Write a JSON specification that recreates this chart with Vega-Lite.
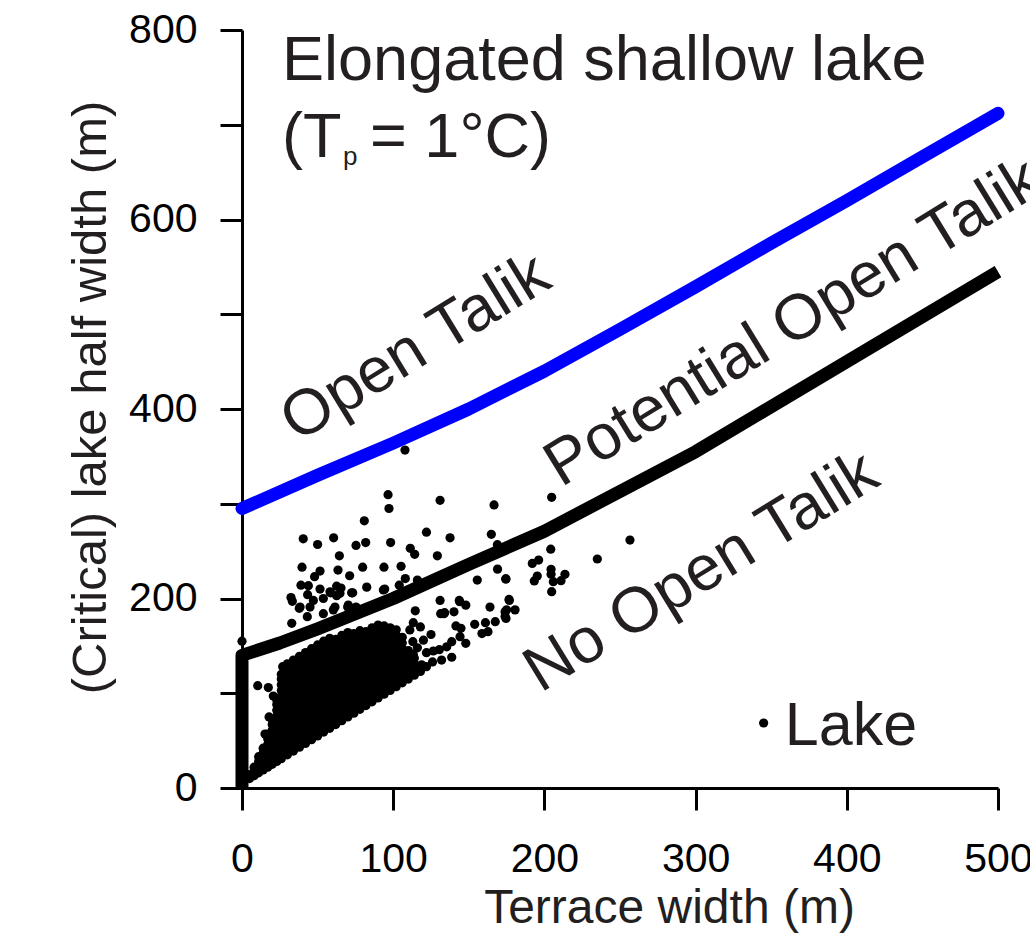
{
"$schema": "https://vega.github.io/schema/vega-lite/v6.json",
"width": 756, "height": 758,
"autosize": {"type": "none"},
"padding": {"left": 242, "top": 30, "right": 32, "bottom": 150},
"background": "white",
"config": {"view": {"stroke": null}, "axis": {"grid": false, "domainColor": "black", "domainWidth": 3, "tickColor": "black", "tickWidth": 3, "tickSize": 22, "labelFont": "Liberation Sans", "labelFontSize": 41, "labelColor": "black", "titleFont": "Liberation Sans", "titleFontWeight": "normal", "titleColor": "#231f20", "labelOverlap": false, "labelFlush": false, "labelBound": false}},
"datasets": {
"lakes": [
{"x":0,"y":155},{"x":10.4,"y":108},{"x":17.4,"y":106},{"x":20.7,"y":97},{"x":15.2,"y":57},{"x":17.9,"y":75},{"x":26.9,"y":128},
{"x":80.9,"y":282},{"x":40.5,"y":263},{"x":50,"y":257},{"x":60.6,"y":264},{"x":75.4,"y":256},{"x":81.8,"y":259},{"x":64.4,"y":245},{"x":39.7,"y":233},{"x":51.6,"y":229},{"x":63.5,"y":230},{"x":79.8,"y":233},{"x":48,"y":223},{"x":71.2,"y":224},{"x":39,"y":214},{"x":43.9,"y":213.5},{"x":51.6,"y":210},{"x":62.6,"y":213},{"x":65.5,"y":211},{"x":32.4,"y":201},{"x":33.3,"y":197},{"x":43.4,"y":204},{"x":47.2,"y":198},{"x":53.8,"y":200},{"x":58.6,"y":206},{"x":62.6,"y":203},{"x":73.2,"y":206},{"x":38.4,"y":191},{"x":45,"y":191},{"x":61.5,"y":191},{"x":69.9,"y":191},{"x":75.4,"y":191},
{"x":96.6,"y":309.6},{"x":97.2,"y":295},{"x":131,"y":303.6},{"x":166.7,"y":298.7},{"x":122,"y":270},{"x":137.6,"y":264},{"x":164.9,"y":267.7},{"x":168.9,"y":256.8},{"x":98.3,"y":259},{"x":111.3,"y":253},{"x":114.2,"y":246.6},{"x":129.2,"y":245},{"x":93.9,"y":233},{"x":105.2,"y":234},{"x":169,"y":231},{"x":108,"y":221},{"x":116,"y":219.5},{"x":104,"y":214},{"x":94.4,"y":210},{"x":155.6,"y":219.5},{"x":174.6,"y":220.6},{"x":131,"y":198},{"x":143.7,"y":198},{"x":148,"y":193},{"x":164,"y":191},{"x":176.8,"y":198},
{"x":114.6,"y":187},{"x":131.4,"y":184},{"x":133.6,"y":184},{"x":140.2,"y":186},{"x":175,"y":188},{"x":174.6,"y":179},{"x":141.5,"y":171},{"x":144.8,"y":168.5},{"x":153.9,"y":172.8},{"x":161,"y":174.5},{"x":167.5,"y":175.5},{"x":158.7,"y":163},{"x":162.7,"y":165},{"x":144.2,"y":159.7},{"x":148,"y":152.7},{"x":138.7,"y":154.4},{"x":135.4,"y":149},{"x":130.5,"y":146},{"x":126.5,"y":144.6},{"x":122,"y":142.8},{"x":113.3,"y":141},{"x":110,"y":138.6},{"x":132,"y":135},{"x":138.7,"y":138},{"x":118.8,"y":130},{"x":111,"y":128},{"x":109,"y":124},{"x":106.7,"y":117.5},
{"x":204.8,"y":306.8},{"x":256.6,"y":261.7},{"x":235,"y":241.7},{"x":204.2,"y":252},{"x":192,"y":237},{"x":196.2,"y":240.6},{"x":204.4,"y":230.8},{"x":204.4,"y":225.5},{"x":213.6,"y":225.5},{"x":211,"y":218.8},{"x":205.9,"y":217.7},{"x":195.3,"y":223.7},{"x":193.3,"y":218.5},{"x":204.8,"y":207.2},{"x":174.4,"y":220.6},{"x":176.6,"y":199},{"x":180.6,"y":188},{"x":174,"y":186},{"x":174,"y":181},
{"x":107.8,"y":356.7},{"x":37.9,"y":189.6},{"x":43.2,"y":180.8},{"x":32.9,"y":173.8},{"x":53.8,"y":184},{"x":60.4,"y":188},{"x":70.3,"y":193},{"x":75.9,"y":189.6},{"x":58.2,"y":207},{"x":72.5,"y":206},{"x":64.8,"y":205.5},{"x":82.5,"y":212},{"x":93.5,"y":209},{"x":113.3,"y":174.5},{"x":111,"y":166.8},{"x":113,"y":154.4},{"x":134,"y":185},{"x":144,"y":196.6},
{"x":118,"y":123},{"x":122,"y":128},{"x":126,"y":133},{"x":116,"y":148},{"x":120,"y":156},{"x":125,"y":162},{"x":118,"y":170},
{"x":5,"y":10},{"x":5,"y":14},
{"x":8,"y":13},{"x":8,"y":18},{"x":8,"y":22},
{"x":11,"y":16},{"x":11,"y":22},{"x":11,"y":28},{"x":11,"y":33},
{"x":14,"y":19},{"x":14,"y":25},{"x":14,"y":31},{"x":14,"y":37},{"x":14,"y":42},
{"x":17,"y":22},{"x":17,"y":28},{"x":17,"y":34},{"x":17,"y":40},{"x":17,"y":46},{"x":17,"y":52},{"x":17,"y":57},
{"x":20,"y":25},{"x":20,"y":31},{"x":20,"y":37},{"x":20,"y":43},{"x":20,"y":49},{"x":20,"y":55},{"x":20,"y":61},{"x":20,"y":67},{"x":20,"y":72},
{"x":23,"y":28},{"x":23,"y":34},{"x":23,"y":40},{"x":23,"y":46},{"x":23,"y":52},{"x":23,"y":58},{"x":23,"y":64},{"x":23,"y":70},{"x":23,"y":76},{"x":23,"y":82},{"x":23,"y":88},{"x":23,"y":93},
{"x":26,"y":31},{"x":26,"y":37},{"x":26,"y":43},{"x":26,"y":49},{"x":26,"y":55},{"x":26,"y":61},{"x":26,"y":67},{"x":26,"y":73},{"x":26,"y":79},{"x":26,"y":85},{"x":26,"y":91},{"x":26,"y":97},{"x":26,"y":103},{"x":26,"y":109},{"x":26,"y":115},{"x":26,"y":120},
{"x":30,"y":35},{"x":30,"y":41},{"x":30,"y":47},{"x":30,"y":53},{"x":30,"y":59},{"x":30,"y":65},{"x":30,"y":71},{"x":30,"y":77},{"x":30,"y":83},{"x":30,"y":89},{"x":30,"y":95},{"x":30,"y":101},{"x":30,"y":107},{"x":30,"y":113},{"x":30,"y":119},{"x":30,"y":125},{"x":30,"y":131},
{"x":34,"y":39},{"x":34,"y":45},{"x":34,"y":51},{"x":34,"y":57},{"x":34,"y":63},{"x":34,"y":69},{"x":34,"y":75},{"x":34,"y":81},{"x":34,"y":87},{"x":34,"y":93},{"x":34,"y":99},{"x":34,"y":105},{"x":34,"y":111},{"x":34,"y":117},{"x":34,"y":123},{"x":34,"y":129},{"x":34,"y":135},
{"x":38,"y":43},{"x":38,"y":49},{"x":38,"y":55},{"x":38,"y":61},{"x":38,"y":67},{"x":38,"y":73},{"x":38,"y":79},{"x":38,"y":85},{"x":38,"y":91},{"x":38,"y":97},{"x":38,"y":103},{"x":38,"y":109},{"x":38,"y":115},{"x":38,"y":121},{"x":38,"y":127},{"x":38,"y":133},{"x":38,"y":139},
{"x":42,"y":47},{"x":42,"y":53},{"x":42,"y":59},{"x":42,"y":65},{"x":42,"y":71},{"x":42,"y":77},{"x":42,"y":83},{"x":42,"y":89},{"x":42,"y":95},{"x":42,"y":101},{"x":42,"y":107},{"x":42,"y":113},{"x":42,"y":119},{"x":42,"y":125},{"x":42,"y":131},{"x":42,"y":137},{"x":42,"y":143},
{"x":46,"y":51},{"x":46,"y":57},{"x":46,"y":63},{"x":46,"y":69},{"x":46,"y":75},{"x":46,"y":81},{"x":46,"y":87},{"x":46,"y":93},{"x":46,"y":99},{"x":46,"y":105},{"x":46,"y":111},{"x":46,"y":117},{"x":46,"y":123},{"x":46,"y":129},{"x":46,"y":135},{"x":46,"y":141},{"x":46,"y":147},
{"x":50,"y":55},{"x":50,"y":61},{"x":50,"y":67},{"x":50,"y":73},{"x":50,"y":79},{"x":50,"y":85},{"x":50,"y":91},{"x":50,"y":97},{"x":50,"y":103},{"x":50,"y":109},{"x":50,"y":115},{"x":50,"y":121},{"x":50,"y":127},{"x":50,"y":133},{"x":50,"y":139},{"x":50,"y":145},{"x":50,"y":151},
{"x":54,"y":59},{"x":54,"y":65},{"x":54,"y":71},{"x":54,"y":77},{"x":54,"y":83},{"x":54,"y":89},{"x":54,"y":95},{"x":54,"y":101},{"x":54,"y":107},{"x":54,"y":113},{"x":54,"y":119},{"x":54,"y":125},{"x":54,"y":131},{"x":54,"y":137},{"x":54,"y":143},{"x":54,"y":149},{"x":54,"y":155},
{"x":58,"y":63},{"x":58,"y":69},{"x":58,"y":75},{"x":58,"y":81},{"x":58,"y":87},{"x":58,"y":93},{"x":58,"y":99},{"x":58,"y":105},{"x":58,"y":111},{"x":58,"y":117},{"x":58,"y":123},{"x":58,"y":129},{"x":58,"y":135},{"x":58,"y":141},{"x":58,"y":147},{"x":58,"y":153},{"x":58,"y":158},
{"x":62,"y":67},{"x":62,"y":73},{"x":62,"y":79},{"x":62,"y":85},{"x":62,"y":91},{"x":62,"y":97},{"x":62,"y":103},{"x":62,"y":109},{"x":62,"y":115},{"x":62,"y":121},{"x":62,"y":127},{"x":62,"y":133},{"x":62,"y":139},{"x":62,"y":145},{"x":62,"y":151},{"x":62,"y":157},
{"x":66,"y":71},{"x":66,"y":77},{"x":66,"y":83},{"x":66,"y":89},{"x":66,"y":95},{"x":66,"y":101},{"x":66,"y":107},{"x":66,"y":113},{"x":66,"y":119},{"x":66,"y":125},{"x":66,"y":131},{"x":66,"y":137},{"x":66,"y":143},{"x":66,"y":149},{"x":66,"y":155},{"x":66,"y":161},
{"x":70,"y":75},{"x":70,"y":81},{"x":70,"y":87},{"x":70,"y":93},{"x":70,"y":99},{"x":70,"y":105},{"x":70,"y":111},{"x":70,"y":117},{"x":70,"y":123},{"x":70,"y":129},{"x":70,"y":135},{"x":70,"y":141},{"x":70,"y":147},{"x":70,"y":153},{"x":70,"y":159},{"x":70,"y":164},
{"x":74,"y":79},{"x":74,"y":85},{"x":74,"y":91},{"x":74,"y":97},{"x":74,"y":103},{"x":74,"y":109},{"x":74,"y":115},{"x":74,"y":121},{"x":74,"y":127},{"x":74,"y":133},{"x":74,"y":139},{"x":74,"y":145},{"x":74,"y":151},{"x":74,"y":157},{"x":74,"y":163},
{"x":78,"y":83},{"x":78,"y":89},{"x":78,"y":95},{"x":78,"y":101},{"x":78,"y":107},{"x":78,"y":113},{"x":78,"y":119},{"x":78,"y":125},{"x":78,"y":131},{"x":78,"y":137},{"x":78,"y":143},{"x":78,"y":149},{"x":78,"y":155},{"x":78,"y":161},{"x":78,"y":166},
{"x":82,"y":87},{"x":82,"y":93},{"x":82,"y":99},{"x":82,"y":105},{"x":82,"y":111},{"x":82,"y":117},{"x":82,"y":123},{"x":82,"y":129},{"x":82,"y":135},{"x":82,"y":141},{"x":82,"y":147},{"x":82,"y":153},{"x":82,"y":159},{"x":82,"y":165},
{"x":86,"y":91},{"x":86,"y":97},{"x":86,"y":103},{"x":86,"y":109},{"x":86,"y":115},{"x":86,"y":121},{"x":86,"y":127},{"x":86,"y":133},{"x":86,"y":139},{"x":86,"y":145},{"x":86,"y":151},{"x":86,"y":157},{"x":86,"y":163},{"x":86,"y":169},
{"x":90,"y":95},{"x":90,"y":101},{"x":90,"y":107},{"x":90,"y":113},{"x":90,"y":119},{"x":90,"y":125},{"x":90,"y":131},{"x":90,"y":137},{"x":90,"y":143},{"x":90,"y":149},{"x":90,"y":155},{"x":90,"y":161},{"x":90,"y":167},{"x":90,"y":172},
{"x":94,"y":99},{"x":94,"y":105},{"x":94,"y":111},{"x":94,"y":117},{"x":94,"y":123},{"x":94,"y":129},{"x":94,"y":135},{"x":94,"y":141},{"x":94,"y":147},{"x":94,"y":153},{"x":94,"y":159},{"x":94,"y":165},{"x":94,"y":171},
{"x":98,"y":103},{"x":98,"y":109},{"x":98,"y":115},{"x":98,"y":121},{"x":98,"y":127},{"x":98,"y":133},{"x":98,"y":139},{"x":98,"y":145},{"x":98,"y":151},{"x":98,"y":157},{"x":98,"y":163},{"x":98,"y":169},
{"x":102,"y":107},{"x":102,"y":113},{"x":102,"y":119},{"x":102,"y":125},{"x":102,"y":131},{"x":102,"y":137},{"x":102,"y":143},{"x":102,"y":149},{"x":102,"y":155},{"x":102,"y":161},{"x":102,"y":167},
{"x":106,"y":111},{"x":106,"y":117},{"x":106,"y":123},{"x":106,"y":129},{"x":106,"y":135},{"x":106,"y":141},{"x":106,"y":147},{"x":106,"y":153},{"x":106,"y":159},
{"x":110,"y":115},{"x":110,"y":121},{"x":110,"y":127},{"x":110,"y":133},{"x":110,"y":139},{"x":110,"y":145},
{"x":114,"y":119},{"x":114,"y":125},{"x":114,"y":131},{"x":114,"y":137}
],
"blackline": [{"i":0,"x":0,"y":0},{"i":1,"x":0,"y":140},{"i":2,"x":25,"y":153},{"i":3,"x":50,"y":168},{"i":4,"x":100,"y":200},{"i":5,"x":150,"y":236},{"i":6,"x":200,"y":271},{"i":7,"x":300,"y":355},{"i":8,"x":400,"y":450},{"i":9,"x":500,"y":545}],
"blueline": [{"i":0,"x":0,"y":295},{"i":1,"x":50,"y":330},{"i":2,"x":100,"y":364},{"i":3,"x":150,"y":400},{"i":4,"x":200,"y":440},{"i":5,"x":250,"y":484},{"i":6,"x":300,"y":529},{"i":7,"x":350,"y":575},{"i":8,"x":400,"y":620},{"i":9,"x":450,"y":666},{"i":10,"x":500,"y":712}],
"bigtext": [{"x":26.5,"y":747,"text":"Elongated shallow lake"},{"x":26.5,"y":666,"text":"(T"},{"x":84.7,"y":666,"text":"= 1°C)"}],
"subtext": [{"x":66.8,"y":657,"text":"p"}],
"regions": [{"x":36.5,"y":364,"text":"Open Talik"},{"x":211,"y":317,"text":"Potential Open Talik"},{"x":197.5,"y":100,"text":"No Open Talik"}],
"legendpoint": [{"x":345,"y":68.6}],
"legendtext": [{"x":359,"y":45.4,"text":"Lake"}]
},
"encoding": {
"x": {"field": "x", "type": "quantitative", "scale": {"domain": [0, 500], "nice": false, "zero": false}, "axis": {"values": [0, 100, 200, 300, 400, 500], "labelPadding": 29, "title": "Terrace width (m)", "titleFontSize": 48, "titleX": 427, "titleY": 134, "titleBaseline": "alphabetic", "titleAlign": "center", "titleAnchor": null}},
"y": {"field": "y", "type": "quantitative", "scale": {"domain": [0, 800], "nice": false, "zero": false}, "axis": {"values": [0, 100, 200, 300, 400, 500, 600, 700, 800], "labelExpr": "datum.value % 200 === 0 ? datum.label : ''", "labelPadding": 23, "title": "(Critical) lake half width (m)", "titleFontSize": 49, "titleAngle": 270, "titleX": -137, "titleY": 367, "titleBaseline": "alphabetic", "titleAlign": "center"}}
},
"layer": [
{"data": {"name": "lakes"}, "mark": {"type": "point", "shape": "circle", "filled": true, "size": 85, "color": "black", "opacity": 1, "strokeWidth": 0}},
{"data": {"name": "blackline"}, "mark": {"type": "line", "color": "black", "strokeWidth": 13, "strokeJoin": "round", "strokeCap": "butt", "clip": false}, "encoding": {"order": {"field": "i", "type": "quantitative"}}},
{"data": {"name": "blueline"}, "mark": {"type": "line", "color": "#0000fe", "strokeWidth": 13, "strokeJoin": "round", "strokeCap": "round", "clip": false}, "encoding": {"order": {"field": "i", "type": "quantitative"}}},
{"data": {"name": "bigtext"}, "mark": {"type": "text", "font": "Liberation Sans", "fontSize": 63, "align": "left", "baseline": "alphabetic", "color": "#231f20"}, "encoding": {"text": {"field": "text"}}},
{"data": {"name": "subtext"}, "mark": {"type": "text", "font": "Liberation Sans", "fontSize": 26, "align": "left", "baseline": "alphabetic", "color": "#231f20"}, "encoding": {"text": {"field": "text"}}},
{"data": {"name": "regions"}, "mark": {"type": "text", "font": "Liberation Sans", "fontSize": 64, "align": "left", "baseline": "alphabetic", "angle": -31.5, "color": "#231f20", "clip": false}, "encoding": {"text": {"field": "text"}}},
{"data": {"name": "legendpoint"}, "mark": {"type": "point", "shape": "circle", "filled": true, "size": 85, "color": "black", "opacity": 1, "strokeWidth": 0}},
{"data": {"name": "legendtext"}, "mark": {"type": "text", "font": "Liberation Sans", "fontSize": 61, "align": "left", "baseline": "alphabetic", "color": "#231f20"}, "encoding": {"text": {"field": "text"}}}
]
}
